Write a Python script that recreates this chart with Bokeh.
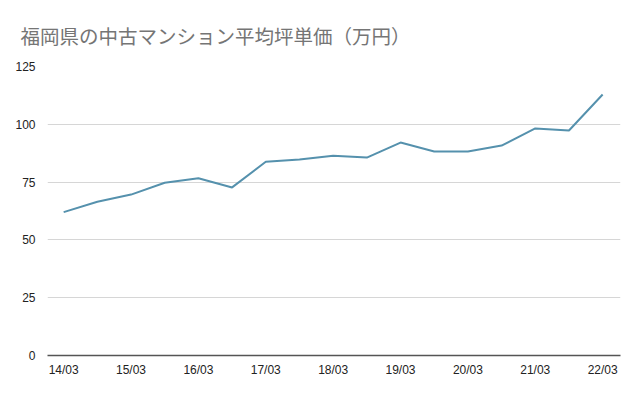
from bokeh.plotting import figure
from bokeh.models import FixedTicker, Range1d
from bokeh.embed import file_html
from bokeh.resources import INLINE

# Half-year periods from 2014/03 to 2022/03
periods = list(range(17))
values = [62.0, 66.5, 69.6, 74.7, 76.7, 72.7, 83.8, 84.8, 86.4, 85.6,
          92.1, 88.2, 88.2, 90.8, 98.2, 97.3, 112.9]
tick_positions = [0, 2, 4, 6, 8, 10, 12, 14, 16]
tick_labels = ["14/03", "15/03", "16/03", "17/03", "18/03",
               "19/03", "20/03", "21/03", "22/03"]
y_ticks = [0, 25, 50, 75, 100, 125]
title_text = "福岡県の中古マンション平均坪単価（万円）"

p = figure(width=632, height=388, output_backend="svg", toolbar_location=None,
           x_range=Range1d(-0.48, 16.53), y_range=Range1d(0, 125),
           min_border_left=47, min_border_right=12, min_border_top=66,
           min_border_bottom=33)

p.title.text = title_text
p.title.text_font = "Noto Sans CJK JP"
p.title.text_font_size = "19.5px"
p.title.text_font_style = "normal"
p.title.text_color = "#757575"
p.title.align = "left"
p.title.offset = -27
p.title.standoff = 34

p.line(periods, values, line_color="#5591ad", line_width=2)

p.outline_line_color = None
p.xgrid.grid_line_color = None
p.ygrid.grid_line_color = "#d6d6d6"
p.ygrid.grid_line_width = 1

p.yaxis.ticker = FixedTicker(ticks=y_ticks)
p.yaxis.axis_line_color = None
p.yaxis.major_tick_line_color = None
p.yaxis.minor_tick_line_color = None
p.yaxis.major_label_text_font = "Liberation Sans"
p.yaxis.major_label_text_font_size = "12px"
p.yaxis.major_label_text_color = "#222222"
p.yaxis.major_label_standoff = 6

p.xaxis.ticker = FixedTicker(ticks=tick_positions)
p.xaxis.major_label_overrides = {pos: lab for pos, lab in zip(tick_positions, tick_labels)}
p.xaxis.axis_line_color = "#555555"
p.xaxis.axis_line_width = 1.5
p.xaxis.major_tick_line_color = None
p.xaxis.minor_tick_line_color = None
p.xaxis.major_label_text_font = "Liberation Sans"
p.xaxis.major_label_text_font_size = "12px"
p.xaxis.major_label_text_color = "#222222"
p.xaxis.major_label_standoff = 1

open("out.html", "w").write(file_html(p, INLINE))
